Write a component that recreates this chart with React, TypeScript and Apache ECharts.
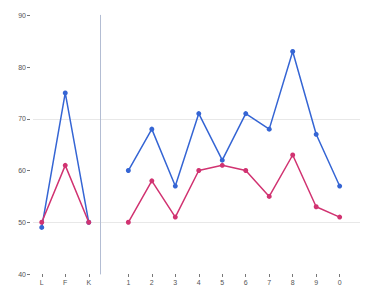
import React, { useEffect, useRef } from "react";
import * as echarts from "echarts";

// Category labels for the two panels
const leftCategories = ["L", "F", "K"];
const rightCategories = ["1", "2", "3", "4", "5", "6", "7", "8", "9", "0"];

// Series values, per panel
const blueLeft = [49, 75, 50];
const pinkLeft = [50, 61, 50];
const blueRight = [60, 68, 57, 71, 62, 71, 68, 83, 67, 57];
const pinkRight = [50, 58, 51, 60, 61, 60, 55, 63, 53, 51];

// Horizontal reference lines
const guideValues = [50, 70];

const Y_MIN = 40;
const Y_MAX = 90;
const BLUE = "#3565d4";
const PINK = "#d13371";
const TEXT = "#555";
const FONT = "Arial, 'Liberation Sans', sans-serif";

export default function App() {
  const ref = useRef<HTMLDivElement>(null);

  useEffect(() => {
    if (!ref.current) return;
    const chart = echarts.init(ref.current, null, { renderer: "svg" });
    const top = 15.3;
    const bottom = 20;
    const lineSeries = (name: string, data: number[], color: string, idx: number) => ({
      name,
      type: "line",
      xAxisIndex: idx,
      yAxisIndex: idx,
      data,
      symbol: "circle",
      symbolSize: 5,
      lineStyle: { color, width: 1.5 },
      itemStyle: { color },
      z: 3,
    });
    const catAxis = (gridIndex: number, data: string[]) => ({
      type: "category",
      gridIndex,
      data,
      axisLine: { show: false },
      axisTick: { show: true, alignWithLabel: true, length: 3, lineStyle: { color: "#777" } },
      axisLabel: { color: TEXT, fontSize: 7, margin: 5, fontFamily: FONT },
      splitLine: { show: false },
    });
    chart.setOption({
      animation: false,
      backgroundColor: "#fff",
      grid: [
        { left: 30, width: 70.5, top, bottom },
        { left: 116.6, right: 22.6, top, bottom },
        { left: 33, right: 14, top, bottom },
      ],
      xAxis: [
        catAxis(0, leftCategories),
        catAxis(1, rightCategories),
        { type: "value", gridIndex: 2, min: 0, max: 1, show: false },
      ],
      yAxis: [
        {
          type: "value",
          gridIndex: 0,
          min: Y_MIN,
          max: Y_MAX,
          interval: 10,
          axisLine: { show: false },
          axisTick: { show: true, length: 3, lineStyle: { color: "#777" } },
          axisLabel: { color: TEXT, fontSize: 7, margin: 4, fontFamily: FONT },
          splitLine: { show: false },
        },
        {
          type: "value",
          gridIndex: 1,
          min: Y_MIN,
          max: Y_MAX,
          interval: 10,
          show: false,
          splitLine: { show: false },
        },
        {
          type: "value",
          gridIndex: 2,
          min: Y_MIN,
          max: Y_MAX,
          show: false,
          splitLine: { show: false },
        },
        {
          type: "value",
          gridIndex: 0,
          position: "right",
          min: Y_MIN,
          max: Y_MAX,
          axisLine: { show: true, lineStyle: { color: "#b3bdd3", width: 1 } },
          axisTick: { show: false },
          axisLabel: { show: false },
          splitLine: { show: false },
        },
      ],
      series: [
        {
          type: "line",
          xAxisIndex: 2,
          yAxisIndex: 2,
          data: [],
          silent: true,
          z: 0,
          markLine: {
            silent: true,
            z: 0,
            symbol: "none",
            label: { show: false },
            lineStyle: { color: "#e8e8e8", width: 1, type: "solid" },
            data: guideValues.map((v) => ({ yAxis: v })),
          },
        },
        lineSeries("blueLeft", blueLeft, BLUE, 0),
        lineSeries("pinkLeft", pinkLeft, PINK, 0),
        lineSeries("blueRight", blueRight, BLUE, 1),
        lineSeries("pinkRight", pinkRight, PINK, 1),
      ],
    });
    return () => chart.dispose();
  }, []);

  return <div ref={ref} style={{ width: 374, height: 294, margin: -8 }} />;
}
